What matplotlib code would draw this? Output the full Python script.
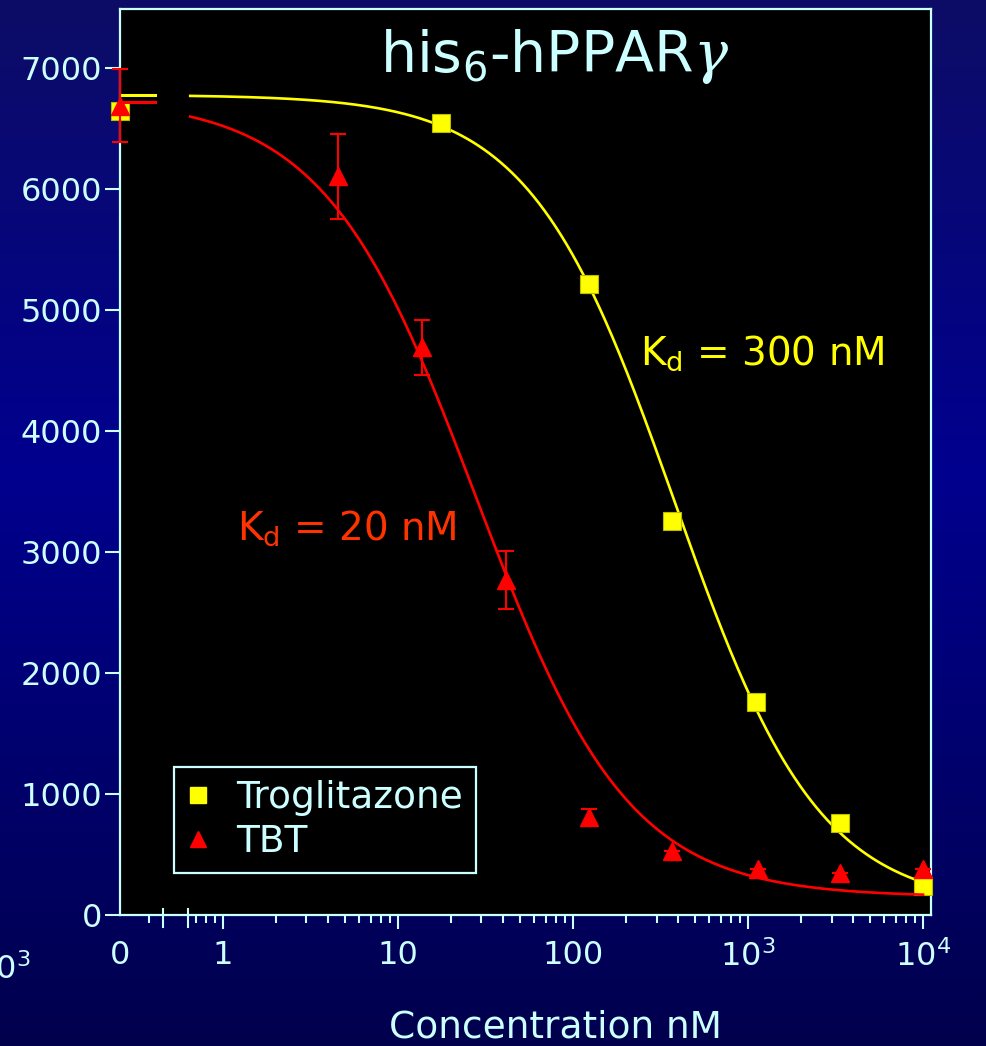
import numpy as np
import matplotlib
matplotlib.use("Agg")
import matplotlib.pyplot as plt
import matplotlib.transforms as mtransforms
from matplotlib.lines import Line2D

plt.rcParams['font.family'] = ['DejaVu Sans']
plt.rcParams['mathtext.fontset'] = 'custom'
plt.rcParams['mathtext.rm'] = 'DejaVu Sans'
plt.rcParams['mathtext.it'] = 'DejaVu Serif:italic'
plt.rcParams['mathtext.default'] = 'regular'

# === data ===
trog_conc = [0, 17.6, 123.5, 370, 1111, 3333, 10000]
trog_signal = [6650, 6545, 5215, 3256, 1760, 760, 240]
trog_err = [0, 0, 70, 0, 0, 0, 0]

tbt_conc = [0, 4.57, 13.7, 41.2, 123.5, 370, 1140, 3357, 10000]
tbt_signal = [6690, 6107, 4694, 2768, 810, 530, 380, 350, 380]
tbt_err = [300, 350, 228, 240, 65, 0, 0, 0, 0]

# 4-parameter logistic fits: top, bottom, ic50, hill
trog_fit = (6780, 60, 380, 1.05)
tbt_fit = (6750, 150, 28, 1.0)

xtick_vals = [1, 10, 100, 1000, 10000]
xtick_text = ['1', '10', '100', '10$^3$', '10$^4$']
ytick_vals = [0, 1000, 2000, 3000, 4000, 5000, 6000, 7000]

# where "0" sits on the broken log axis
x_zero = 0.258

TXT = '#CCFFFF'
YEL = '#FFFF00'
RED = '#FF0000'


def logistic(x, p):
    top, bottom, ic50, hill = p
    return bottom + (top - bottom) / (1 + (x / ic50) ** hill)


def place(conc):
    return [x_zero if c == 0 else c for c in conc]


fig = plt.figure(figsize=(9.86, 10.46), dpi=100)

# background gradient
bg = fig.add_axes([0, 0, 1, 1], zorder=-5)
stops = np.array([[0.05, 0.05, 0.40], [0.0, 0.0, 0.56], [0.0, 0.0, 0.30]])
t = np.linspace(0, 1, 400)
grad = np.empty((400, 1, 3))
for k in range(3):
    grad[:, 0, k] = np.interp(t, [0, 0.45, 1], stops[:, k])
bg.imshow(grad, aspect='auto', extent=[0, 1, 0, 1])
bg.axis('off')

ax = fig.add_axes([0.1217, 0.1252, 0.8225, 0.8662])
ax.set_facecolor('black')
ax.set_xscale('log')
ax.set_xlim(x_zero, 11100)
ax.set_ylim(0, 7490)
for s in ax.spines.values():
    s.set_color(TXT)
    s.set_linewidth(1.6)

# fitted curves
xs = np.logspace(np.log10(0.65), 4, 400)
ax.plot(xs, logistic(xs, trog_fit), color=YEL, lw=1.9, zorder=2)
ax.plot(xs, logistic(xs, tbt_fit), color=RED, lw=1.9, zorder=4)
# short level segments at the "0" position
ax.plot([x_zero, 0.41], [trog_fit[0], trog_fit[0]], color=YEL, lw=2.2, zorder=2, clip_on=False)
ax.plot([x_zero, 0.41], [tbt_fit[0] - 25, tbt_fit[0] - 25], color=RED, lw=2.2, zorder=4, clip_on=False)

# data points
ax.errorbar(place(trog_conc), trog_signal, yerr=trog_err, fmt='s', color=YEL, ms=13,
            mec='#BBBB00', mew=0.8, ecolor=YEL, elinewidth=1.5, capsize=5, capthick=1.5,
            zorder=3, clip_on=False)
ax.errorbar(place(tbt_conc), tbt_signal, yerr=tbt_err, fmt='^', color=RED, ms=13,
            ecolor=RED, elinewidth=1.5, capsize=6, capthick=1.5, zorder=5, clip_on=False)

# ticks
ax.set_xticks([x_zero] + xtick_vals)
ax.set_xticklabels(['0'] + xtick_text)
ax.xaxis.get_major_ticks()[0].tick1line.set_visible(False)
minors = [0.38, 0.7, 0.8, 0.9]
for d in [1, 10, 100, 1000]:
    minors += [d * m for m in range(2, 10)]
ax.set_xticks(minors, minor=True)
ax.xaxis.set_minor_formatter(matplotlib.ticker.NullFormatter())
ax.tick_params(axis='x', which='major', length=10, width=1.5, colors=TXT,
               labelsize=23, pad=8, top=False)
ax.tick_params(axis='x', which='minor', length=5.5, width=1.5, colors=TXT, top=False)
ax.set_yticks(ytick_vals)
ax.tick_params(axis='y', length=11, width=1.5, colors=TXT, labelsize=23, pad=2, right=False)

# axis break marks
trans = mtransforms.blended_transform_factory(ax.transData, ax.transAxes)
for bx in [0.454, 0.63]:
    ax.plot([bx, bx], [-0.013, 0.007], transform=trans, color=TXT, lw=1.5, clip_on=False, zorder=6)

# texts
ax.text(0.536, 0.930, r'his$_6$-hPPAR$\mathit{\gamma}$', transform=ax.transAxes,
        ha='center', va='baseline', fontsize=41, color=TXT)
ax.text(0.641, 0.607, 'K$_d$ = 300 nM', transform=ax.transAxes,
        ha='left', va='baseline', fontsize=28, color=YEL)
ax.text(0.144, 0.414, 'K$_d$ = 20 nM', transform=ax.transAxes,
        ha='left', va='baseline', fontsize=28, color='#FF3300')

handles = [Line2D([], [], marker='s', ls='none', color=YEL, ms=12),
           Line2D([], [], marker='^', ls='none', color=RED, ms=12)]
leg = ax.legend(handles, ['Troglitazone', 'TBT'], loc='lower left',
                bbox_to_anchor=(0.0666, 0.0464), borderaxespad=0, fontsize=27,
                frameon=True, fancybox=False, facecolor='black', edgecolor=TXT,
                framealpha=1, handlelength=0.6, handletextpad=0.7, labelspacing=0.2,
                borderpad=0.35)
leg.get_frame().set_linewidth(1.6)
for txt in leg.get_texts():
    txt.set_color(TXT)

fig.text(555 / 986, 1 - 1028 / 1046, 'Concentration nM', ha='center', va='center',
         fontsize=27, color=TXT)
# clipped remnant of a label at the left edge
fig.text(30 / 986, 1 - 970 / 1046, '10$^3$', ha='right', va='center', fontsize=23, color=TXT)

fig.savefig('out.png', dpi=100)
